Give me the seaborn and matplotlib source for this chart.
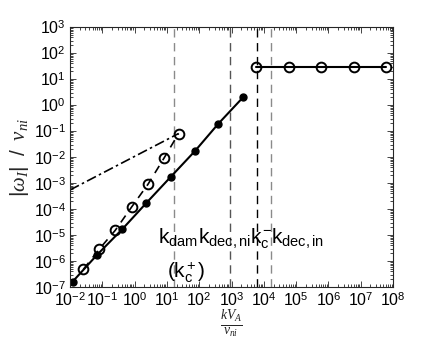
import numpy as np
import pandas as pd
import matplotlib
matplotlib.use("Agg")
import matplotlib.pyplot as plt
import matplotlib.ticker as mticker
import seaborn as sns

# values (log-log)
k_solid = [0.012, 0.068, 0.42, 2.3, 13, 74, 390, 2300]
w_solid = [1.6e-7, 1.7e-6, 1.7e-5, 1.7e-4, 1.7e-3, 1.7e-2, 0.19, 2.0]

k_dashed = [0.026, 0.079, 0.25, 0.81, 2.6, 8.1, 23]
w_dashed = [4.8e-7, 2.8e-6, 1.5e-5, 1.2e-4, 9e-4, 9e-3, 8e-2]

k_dashdot = [0.01, 23]
w_dashdot = [5.4e-4, 8e-2]

k_flat = [5800, 6e4, 6e5, 6e6, 6e7]
w_flat = [30, 30, 30, 30, 30]

k_vlines = [16, 900, 6300, 17000]
vline_colors = ["#8a8a8a", "#555555", "#000000", "#8a8a8a"]

sns.set_style("ticks")
plt.rcParams["font.family"] = ["Liberation Sans", "DejaVu Sans"]
plt.rcParams["text.color"] = "black"
plt.rcParams["mathtext.fontset"] = "custom"
plt.rcParams["mathtext.rm"] = "Liberation Sans"
plt.rcParams["mathtext.it"] = "Liberation Serif:italic"
plt.rcParams["mathtext.sf"] = "Liberation Sans"

fig = plt.figure(figsize=(4.36, 3.47), dpi=100)
ax = fig.add_axes([0.1606, 0.1729, 0.7408, 0.7493])

for k, c in zip(k_vlines, vline_colors):
    ax.axvline(k, color=c, lw=1.0, ls=(0, (6, 4)), zorder=1)

sns.lineplot(x=k_solid, y=w_solid, ax=ax, color="black", lw=1.5,
             marker="o", markersize=5, markeredgecolor="black",
             markerfacecolor="black", markeredgewidth=1)
sns.lineplot(x=k_dashed, y=w_dashed, ax=ax, color="black", lw=1.2,
             ls=(0, (5, 4)), marker="o", markersize=7,
             markeredgecolor="black", markerfacecolor="none",
             markeredgewidth=1.4)
sns.lineplot(x=k_dashdot, y=w_dashdot, ax=ax, color="black", lw=1.2,
             ls=(0, (6, 2, 1.5, 2)))
sns.lineplot(x=k_flat, y=w_flat, ax=ax, color="black", lw=1.5,
             marker="o", markersize=7, markeredgecolor="black",
             markerfacecolor="none", markeredgewidth=1.4)

ax.set_xscale("log")
ax.set_yscale("log")
ax.set_xlim(1e-2, 1e8)
ax.set_ylim(1e-7, 1e3)

ax.xaxis.set_major_locator(mticker.LogLocator(base=10, numticks=20))
ax.yaxis.set_major_locator(mticker.LogLocator(base=10, numticks=20))
ax.xaxis.set_minor_locator(mticker.LogLocator(base=10, subs=np.arange(2, 10), numticks=20))
ax.yaxis.set_minor_locator(mticker.LogLocator(base=10, subs=np.arange(2, 10), numticks=20))
fmt = mticker.FuncFormatter(lambda v, p: r"$10^{%d}$" % int(round(np.log10(v))))
ax.xaxis.set_major_formatter(fmt)
ax.yaxis.set_major_formatter(fmt)
ax.xaxis.set_minor_formatter(mticker.NullFormatter())
ax.yaxis.set_minor_formatter(mticker.NullFormatter())
ax.tick_params(which="both", direction="in", top=True, right=True,
               labelsize=11.5, width=0.6, colors="#262626", labelcolor="black")
ax.tick_params(which="major", length=4, pad=3)
ax.tick_params(which="minor", length=2)
for s in ax.spines.values():
    s.set_linewidth(0.8)
    s.set_color("#262626")

ax.set_ylabel(r"$|\omega_I|\ \ /\ \ \nu_{ni}$", fontsize=15, labelpad=2)
ax.set_xlabel(r"$\frac{kV_A}{\nu_{ni}}$", fontsize=14, labelpad=0)

tsize = 15
ax.text(5.3, 4.9e-6, r"k$_{\rm dam}$", fontsize=tsize, va="baseline", ha="left")
ax.text(91, 4.9e-6, r"k$_{\rm dec,ni}$", fontsize=tsize, va="baseline", ha="left")
ax.text(3700, 4.9e-6, r"k$_{\rm c}^{\rm -}$", fontsize=tsize, va="baseline", ha="left")
ax.text(16600, 4.9e-6, r"k$_{\rm dec,in}$", fontsize=tsize, va="baseline", ha="left")
ax.text(9.8, 2.3e-7, r"(k$_{\rm c}^{\rm +}$)", fontsize=tsize, va="baseline", ha="left")

fig.savefig("out.png", dpi=100)
